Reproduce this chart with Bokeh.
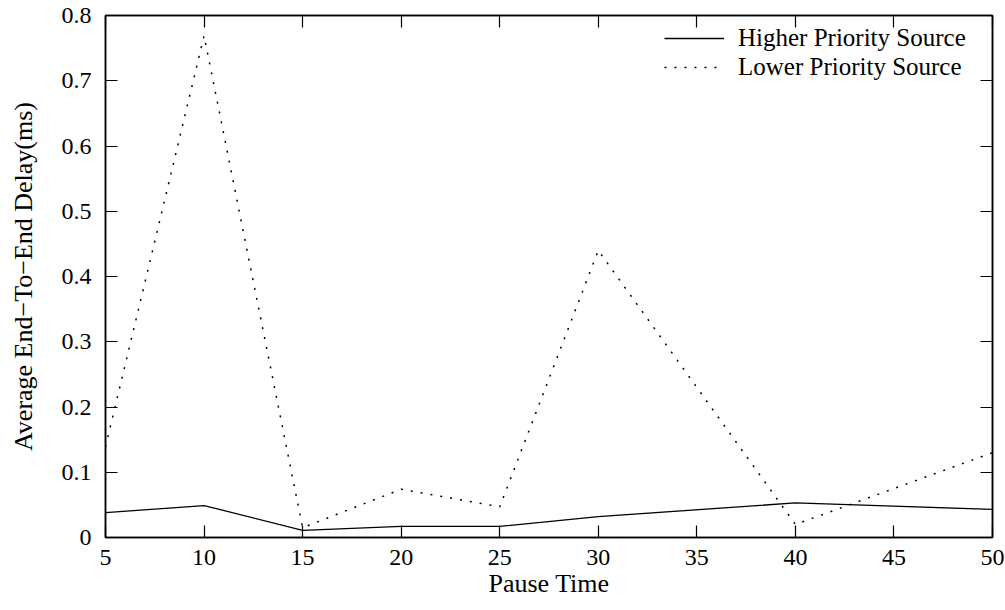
from bokeh.plotting import figure
from bokeh.models import (LinearAxis, FixedTicker, PrintfTickFormatter, Range1d,
                          Legend, LegendItem)
from bokeh.embed import file_html
from bokeh.resources import INLINE

pause_time = [5, 10, 15, 20, 25, 30, 40, 50]
higher_priority = [0.038, 0.049, 0.011, 0.017, 0.017, 0.032, 0.053, 0.043]
lower_priority = [0.139, 0.769, 0.015, 0.074, 0.047, 0.440, 0.020, 0.130]

x_ticks = [5, 10, 15, 20, 25, 30, 35, 40, 45, 50]
y_ticks = [0, 0.1, 0.2, 0.3, 0.4, 0.5, 0.6, 0.7, 0.8]

FONT = "Liberation Serif"
TICK_FS = "24px"
LABEL_FS = "26px"
LEGEND_FS = "25px"

p = figure(width=1005, height=610, output_backend="svg", toolbar_location=None,
           x_range=Range1d(5, 50), y_range=Range1d(0, 0.8),
           min_border_left=105, min_border_right=13, min_border_top=15,
           min_border_bottom=73, x_axis_label="Pause Time",
           y_axis_label="Average End\u2212To\u2212End Delay(ms)")
p.grid.visible = False
p.outline_line_color = "black"
p.outline_line_width = 1.5
p.background_fill_color = "white"
p.border_fill_color = "white"

for ax in p.xaxis + p.yaxis:
    ax.major_tick_in = 12
    ax.major_tick_out = 0
    ax.minor_tick_in = 0
    ax.minor_tick_out = 0
    ax.axis_line_color = "black"
    ax.axis_line_width = 1.5
    ax.major_tick_line_color = "black"
    ax.major_tick_line_width = 1.2
    ax.major_label_text_font = FONT
    ax.major_label_text_font_size = TICK_FS
    ax.major_label_text_color = "black"
    ax.axis_label_text_font = FONT
    ax.axis_label_text_font_size = LABEL_FS
    ax.axis_label_text_font_style = "normal"
    ax.axis_label_text_color = "black"

p.xaxis.ticker = FixedTicker(ticks=x_ticks)
p.yaxis.ticker = FixedTicker(ticks=y_ticks)
p.yaxis.formatter = PrintfTickFormatter(format="%g")
p.xaxis.major_label_standoff = 12
p.xaxis.axis_label_standoff = 1
p.yaxis.major_label_standoff = 14
p.yaxis.axis_label_standoff = 21

# mirrored ticks on top and right (labels not drawn)
top = LinearAxis(ticker=FixedTicker(ticks=x_ticks), major_tick_in=12, major_tick_out=0,
                 minor_tick_in=0, minor_tick_out=0, major_label_text_font_size="1px",
                 major_label_text_color=None, major_label_standoff=0,
                 axis_line_width=1.5, major_tick_line_width=1.2)
right = LinearAxis(ticker=FixedTicker(ticks=y_ticks), major_tick_in=12, major_tick_out=0,
                   minor_tick_in=0, minor_tick_out=0, major_label_text_font_size="1px",
                   major_label_text_color=None, major_label_standoff=0,
                   axis_line_width=1.5, major_tick_line_width=1.2)
p.add_layout(top, "above")
p.add_layout(right, "right")

r1 = p.line(pause_time, higher_priority, line_color="black", line_width=1.3)
r2 = p.line(pause_time, lower_priority, line_color="black", line_width=1.5,
            line_dash="2 8")


def make_legend(label, renderer, loc):
    return Legend(items=[LegendItem(label=label, renderers=[renderer])],
                  location=loc, border_line_alpha=0, background_fill_alpha=0,
                  label_text_font=FONT, label_text_font_size=LEGEND_FS,
                  label_text_color="black", glyph_width=60, glyph_height=18,
                  label_height=18, spacing=0, padding=4, margin=0,
                  label_standoff=14)


p.add_layout(make_legend("Higher Priority Source", r1, (555, 481)))
p.add_layout(make_legend("Lower Priority Source", r2, (555, 452)))

open("out.html", "w").write(file_html(p, INLINE))
